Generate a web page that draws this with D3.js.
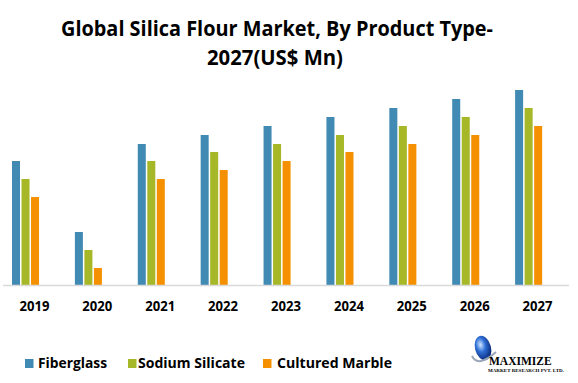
<!DOCTYPE html>
<html>
<head>
<meta charset="utf-8">
<script src="https://cdn.jsdelivr.net/npm/d3@7"></script>
<style>
  html, body { margin: 0; padding: 0; background: #fff; }
  svg { display: block; }
  text { font-family: "Open Sans", "Noto Sans", sans-serif; font-weight: bold; fill: #000; }
</style>
</head>
<body>
<svg id="chart" width="578" height="383"></svg>
<script>
const years = ["2019", "2020", "2021", "2022", "2023", "2024", "2025", "2026", "2027"];
const seriesNames = ["Fiberglass", "Sodium Silicate", "Cultured Marble"];
const fiberglass = [124, 53, 141, 150, 159, 168, 177, 186, 195];
const sodiumSilicate = [106, 35, 124, 133, 141, 150, 159, 168, 177];
const culturedMarble = [88, 17, 106, 115, 124, 133, 141, 150, 159];
const colors = ["#418AB3", "#A6B727", "#F59100"];
const titleLines = ["Global Silica Flour Market, By Product Type-", "2027(US$ Mn)"];

const seriesValues = [fiberglass, sodiumSilicate, culturedMarble];
const svg = d3.select("#chart");

function squeeze(sel, target) {
  sel.attr("textLength", target).attr("lengthAdjust", "spacingAndGlyphs");
}

// Title
const t1 = svg.append("text").attr("x", 277).attr("y", 36).attr("text-anchor", "middle")
  .attr("font-size", 20.5).text(titleLines[0]);
squeeze(t1, 432);
const t2 = svg.append("text").attr("x", 275).attr("y", 65).attr("text-anchor", "middle")
  .attr("font-size", 20.5).text(titleLines[1]);
squeeze(t2, 136);

// Scales
const x0 = d3.scaleBand().domain(years).range([3, 569]).padding(0);
const bw = x0.bandwidth();
const x1 = d3.scaleBand().domain(seriesNames)
  .range([bw * 0.143, bw * 0.573]).paddingInner(0.158).paddingOuter(0);
const y = d3.scaleLinear().domain([0, 200]).range([285, 85]);

// Bars
const groups = svg.append("g").selectAll("g").data(years).join("g")
  .attr("transform", d => `translate(${x0(d)},0)`);
groups.selectAll("rect")
  .data((d, i) => seriesNames.map((s, j) => ({ s, j, v: seriesValues[j][i] })))
  .join("rect")
  .attr("x", d => x1(d.s))
  .attr("width", x1.bandwidth())
  .attr("y", d => y(d.v))
  .attr("height", d => y(0) - y(d.v))
  .attr("fill", d => colors[d.j]);

// Baseline
svg.append("line").attr("x1", 3).attr("x2", 569).attr("y1", 285.5).attr("y2", 285.5)
  .attr("stroke", "#d9d9d9").attr("stroke-width", 1.5);

// X axis labels
const xAxis = svg.append("g").attr("transform", "translate(0,285)")
  .call(d3.axisBottom(x0).tickSize(0).tickPadding(0));
xAxis.select(".domain").remove();
xAxis.selectAll("text").attr("font-size", 13.5).attr("font-family", "'Open Sans', sans-serif")
  .attr("font-weight", "bold").attr("fill", "#000").attr("dy", 0).attr("y", 26)
  .attr("textLength", 30).attr("lengthAdjust", "spacingAndGlyphs");

// Legend
const legendItems = [
  { name: seriesNames[0], sx: 25, tx: 38, w: 69 },
  { name: seriesNames[1], sx: 128, tx: 138, w: 107 },
  { name: seriesNames[2], sx: 263, tx: 277, w: 115 }
];
legendItems.forEach((it, i) => {
  svg.append("rect").attr("x", it.sx).attr("y", 359).attr("width", 8.5).attr("height", 9)
    .attr("fill", colors[i]);
  const lt = svg.append("text").attr("x", it.tx).attr("y", 368).attr("font-size", 15).text(it.name);
  squeeze(lt, it.w);
});

// Logo
const defs = svg.append("defs");
const grad = defs.append("radialGradient").attr("id", "globe").attr("cx", "40%").attr("cy", "35%").attr("r", "65%");
grad.append("stop").attr("offset", "0%").attr("stop-color", "#cfe6ff");
grad.append("stop").attr("offset", "45%").attr("stop-color", "#2f6fd6");
grad.append("stop").attr("offset", "100%").attr("stop-color", "#0a2a7a");
const logo = svg.append("g");
logo.append("ellipse").attr("cx", 483).attr("cy", 348).attr("rx", 8).attr("ry", 12.5)
  .attr("fill", "url(#globe)").attr("transform", "rotate(-15 483 348)");
logo.append("path").attr("d", "M472,356 Q478,368 496,352").attr("fill", "none")
  .attr("stroke", "#9aa6b8").attr("stroke-width", 2);
logo.append("text").attr("x", 489).attr("y", 365).attr("font-size", 11.5)
  .style("font-family", "'Liberation Serif', 'DejaVu Serif', serif").attr("fill", "#3b3f6e")
  .text("MAXIMIZE");
logo.append("text").attr("x", 488).attr("y", 372).attr("font-size", 5)
  .style("font-family", "'Liberation Serif', 'DejaVu Serif', serif").attr("fill", "#3b3f6e")
  .text("MARKET RESEARCH PVT. LTD.");
</script>
</body>
</html>
